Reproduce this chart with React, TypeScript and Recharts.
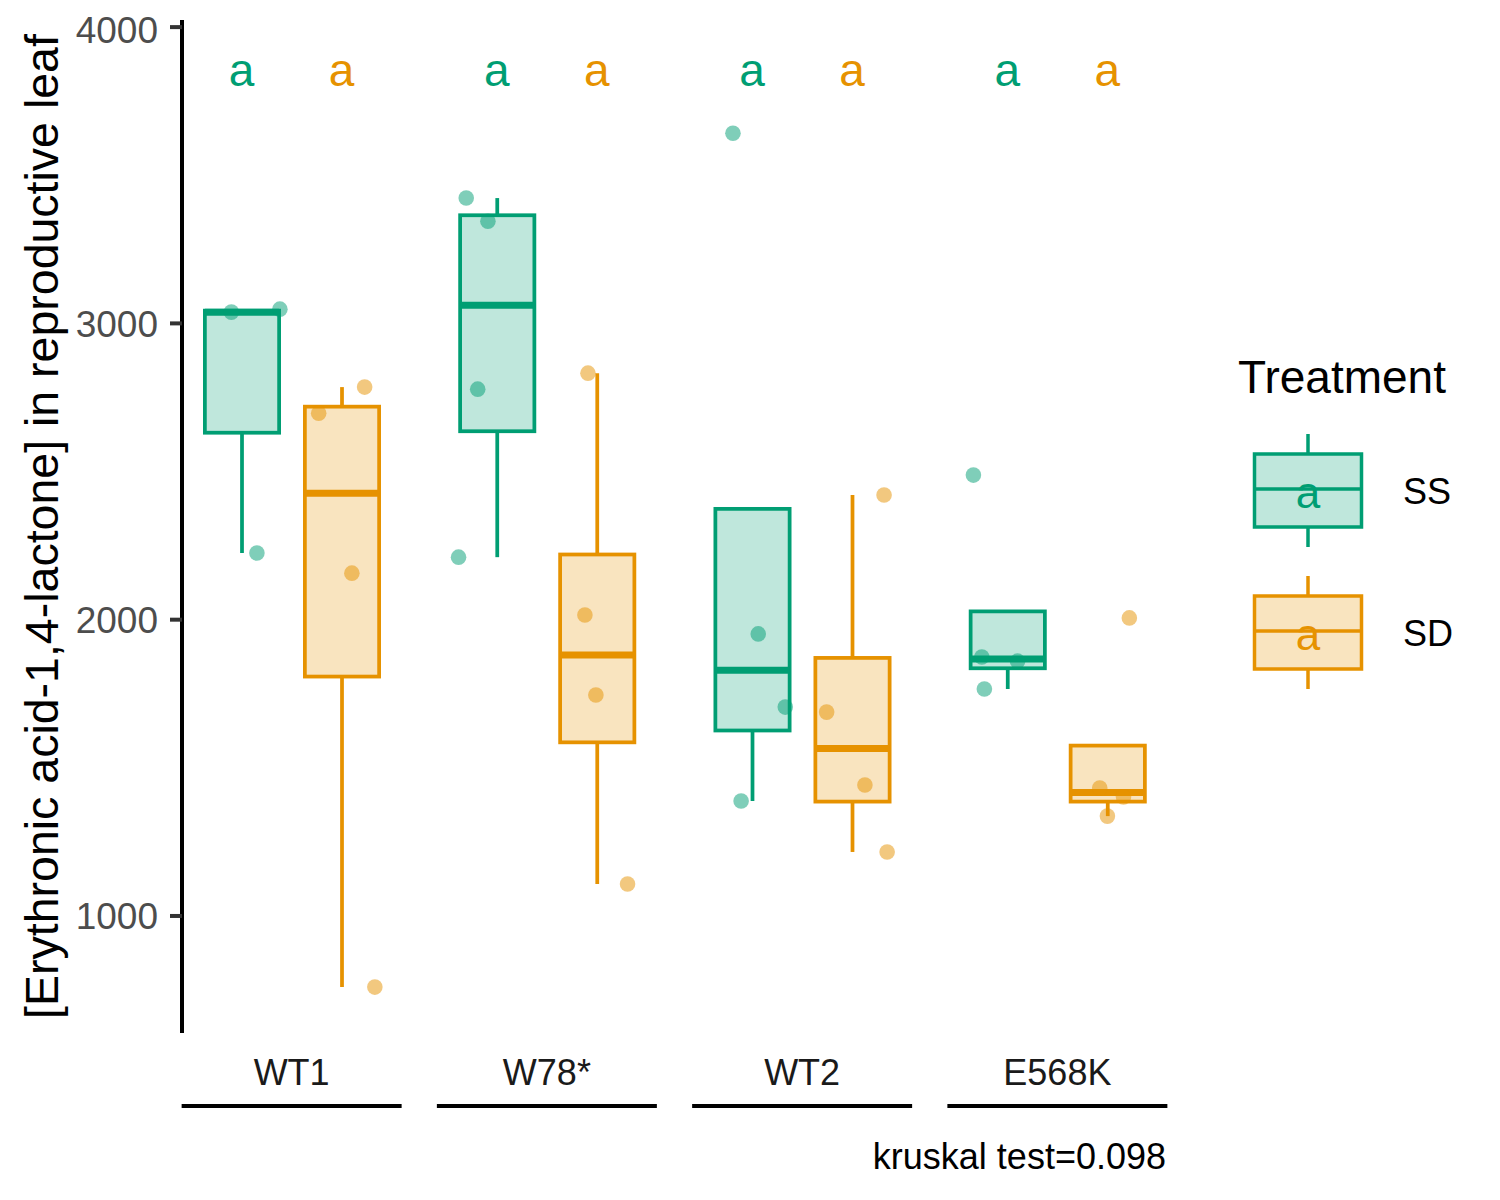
import { ComposedChart, Bar, Scatter, XAxis, YAxis, Legend } from 'recharts';

const FONT = '"Liberation Sans", Arial, sans-serif';

const genotypes = ['WT1', 'W78*', 'WT2', 'E568K'];
const treatments = ['SS', 'SD'];
const colors = ['#009E73', '#E69200'];

// box stats: [lower whisker, Q1, median, Q3, upper whisker]
const ssBoxes = [
  [2225, 2631, 3038, 3043, 3048],
  [2211, 2636, 3061, 3365, 3423],
  [1388, 1626, 1829, 2374, 2374],
  [1766, 1836, 1867, 2028, 2028],
];
const sdBoxes = [
  [760, 1808, 2427, 2719, 2785],
  [1108, 1586, 1881, 2220, 2832],
  [1216, 1386, 1565, 1871, 2421],
  [1337, 1386, 1417, 1575, 1575],
];

// individual samples per genotype
const ssPoints = [
  [3038, 3048, 2225],
  [3423, 3345, 2778, 2211],
  [3642, 1952, 1705, 1388],
  [2488, 1874, 1860, 1766],
];
const sdPoints = [
  [2697, 2785, 2157, 760],
  [2832, 2016, 1746, 1108],
  [2421, 1688, 1442, 1216],
  [2006, 1432, 1402, 1337],
];

// horizontal jitter, as a fraction of one genotype group
const ssJitter = [
  [-0.04, 0.15, 0.06],
  [-0.12, -0.035, -0.075, -0.15],
  [-0.075, 0.024, 0.13, -0.043],
  [-0.133, -0.1, 0.04, -0.09],
];
const sdJitter = [
  [-0.09, 0.09, 0.04, 0.13],
  [-0.035, -0.047, -0.004, 0.12],
  [0.125, -0.1, 0.05, 0.137],
  [0.086, -0.03, 0.063, 0],
];

const ssLetters = ['a', 'a', 'a', 'a'];
const sdLetters = ['a', 'a', 'a', 'a'];
const letterLevel = 3800;

const yTicks = [1000, 2000, 3000, 4000];
const kruskalP = 0.098;

const DODGE = 0.196;
const LW = 3.75;

const boxRows = genotypes.map((g, i) => ({
  genotype: g,
  ss: [ssBoxes[i][1], ssBoxes[i][3]],
  sd: [sdBoxes[i][1], sdBoxes[i][3]],
  ssStats: ssBoxes[i],
  sdStats: sdBoxes[i],
}));

const toPoints = (vals: number[][], jit: number[][], side: number) =>
  vals.flatMap((arr, i) => arr.map((v, j) => ({ x: i + 0.5 + side * DODGE + jit[i][j], y: v })));

const toLetters = (labels: string[], side: number) =>
  labels.map((l, i) => ({ x: i + 0.5 + side * DODGE, y: letterLevel, label: l }));

const ssPointData = toPoints(ssPoints, ssJitter, -1);
const sdPointData = toPoints(sdPoints, sdJitter, 1);
const ssLetterData = toLetters(ssLetters, -1);
const sdLetterData = toLetters(sdLetters, 1);

const makeBox = (statsKey: string, color: string) => (props: any) => {
  const { x, y, width, height, payload } = props;
  const [lo, q1, med, q3, hi] = payload[statsKey];
  const top = Math.min(y, y + height);
  const h = Math.abs(height);
  const k = h / (q3 - q1);
  const py = (v: number) => top + (q3 - v) * k;
  const cx = x + width / 2;
  const inset = LW / 2;
  return (
    <g>
      {hi > q3 && <line x1={cx} x2={cx} y1={py(hi)} y2={top} stroke={color} strokeWidth={LW} />}
      {lo < q1 && <line x1={cx} x2={cx} y1={top + h} y2={py(lo)} stroke={color} strokeWidth={LW} />}
      <rect
        x={x + inset}
        y={top}
        width={width - LW}
        height={h}
        fill={color}
        fillOpacity={0.25}
        stroke={color}
        strokeWidth={LW}
      />
      <line x1={x + inset} x2={x + width - inset} y1={py(med)} y2={py(med)} stroke={color} strokeWidth={7} />
    </g>
  );
};

const makeDot = (color: string) => (props: any) => (
  <circle cx={props.cx} cy={props.cy} r={7.8} fill={color} fillOpacity={0.5} />
);

const makeLetter = (color: string) => (props: any) => (
  <text x={props.cx} y={props.cy} textAnchor="middle" fontSize={46} fontFamily={FONT} fill={color}>
    {props.payload.label}
  </text>
);

const GroupTick = (props: any) => {
  const { x, y, payload } = props;
  return (
    <g>
      <text x={x} y={y + 52} textAnchor="middle" fontSize={36} fontFamily={FONT} fill="#1A1A1A">
        {payload.value}
      </text>
      <line x1={x - 110} x2={x + 110} y1={y + 73} y2={y + 73} stroke="#000" strokeWidth={4} />
    </g>
  );
};

const TreatmentLegend = () => (
  <svg width={250} height={380} style={{ overflow: 'visible', fontFamily: FONT }}>
    <text x={5} y={55} fontSize={46} fill="#000">Treatment</text>
    {treatments.map((t, i) => {
      const oy = i * 142;
      const c = colors[i];
      return (
        <g key={t}>
          <line x1={75} x2={75} y1={96 + oy} y2={116 + oy} stroke={c} strokeWidth={3.5} />
          <line x1={75} x2={75} y1={189 + oy} y2={209 + oy} stroke={c} strokeWidth={3.5} />
          <rect x={21.5} y={116 + oy} width={107} height={73} fill={c} fillOpacity={0.25} stroke={c} strokeWidth={3.5} />
          <line x1={21.5} x2={128.5} y1={151 + oy} y2={151 + oy} stroke={c} strokeWidth={3.5} />
          <text x={75} y={170 + oy} textAnchor="middle" fontSize={44} fill={c}>a</text>
          <text x={170} y={166 + oy} fontSize={36} fill="#000">{t}</text>
        </g>
      );
    })}
  </svg>
);

export default function App() {
  return (
    <ComposedChart
      width={1484}
      height={1184}
      data={boxRows}
      margin={{ top: 12, right: 57, left: 0, bottom: 0 }}
      barSize={78}
      barGap={22}
      style={{ fontFamily: FONT }}
    >
      <XAxis
        dataKey="genotype"
        height={159}
        padding={{ left: -18, right: 0 }}
        axisLine={false}
        tickLine={false}
        tickSize={0}
        tickMargin={0}
        interval={0}
        tick={<GroupTick />}
        label={{
          content: (p: any) => (
            <text
              x={p.viewBox.x + p.viewBox.width - 19}
              y={p.viewBox.y + 136}
              textAnchor="end"
              fontSize={36}
              fontFamily={FONT}
              fill="#000"
            >
              {`kruskal test=${kruskalP}`}
            </text>
          ),
        }}
      />
      <XAxis xAxisId="pts" dataKey="x" type="number" domain={[0, 4]} padding={{ left: -18, right: 0 }} hide />
      <YAxis
        type="number"
        domain={[605, 4024]}
        allowDataOverflow
        ticks={yTicks}
        width={174}
        tickSize={12}
        tickMargin={12}
        axisLine={{ stroke: '#000', strokeWidth: 4 }}
        tickLine={{ stroke: '#333', strokeWidth: 4 }}
        tick={{ fontSize: 37, fill: '#4D4D4D', fontFamily: FONT }}
        label={{
          content: (p: any) => {
            const cx = 50;
            const cy = p.viewBox.y + p.viewBox.height / 2;
            return (
              <text
                x={cx}
                y={cy}
                transform={`rotate(-90, ${cx}, ${cy})`}
                textAnchor="middle"
                fontSize={46.5}
                fontFamily={FONT}
                fill="#000"
              >
                [Erythronic acid-1,4-lactone] in reproductive leaf
              </text>
            );
          },
        }}
      />
      <Legend
        layout="vertical"
        align="right"
        verticalAlign="top"
        wrapperStyle={{ left: 1225, top: 330, width: 250, height: 380 }}
        content={() => <TreatmentLegend />}
      />
      <Bar dataKey="ss" name="SS" shape={makeBox('ssStats', colors[0])} isAnimationActive={false} />
      <Bar dataKey="sd" name="SD" shape={makeBox('sdStats', colors[1])} isAnimationActive={false} />
      <Scatter xAxisId="pts" data={ssPointData} dataKey="y" shape={makeDot(colors[0])} isAnimationActive={false} />
      <Scatter xAxisId="pts" data={sdPointData} dataKey="y" shape={makeDot(colors[1])} isAnimationActive={false} />
      <Scatter xAxisId="pts" data={ssLetterData} dataKey="y" shape={makeLetter(colors[0])} isAnimationActive={false} />
      <Scatter xAxisId="pts" data={sdLetterData} dataKey="y" shape={makeLetter(colors[1])} isAnimationActive={false} />
    </ComposedChart>
  );
}
